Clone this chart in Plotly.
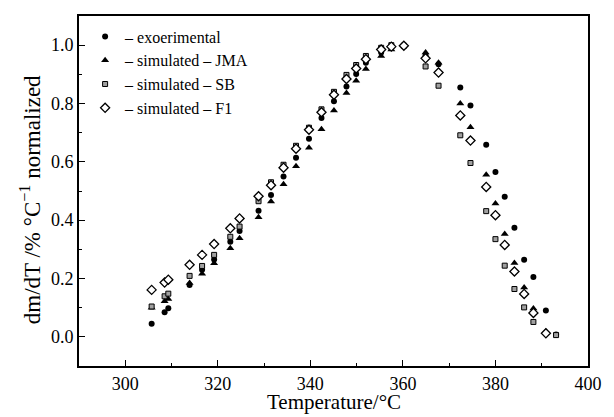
import plotly.graph_objects as go

# ---- data ----
exp_T = [305.7, 308.5, 309.3, 313.9, 316.6, 319.2, 322.7, 324.7, 328.8, 331.5, 334.2, 336.9,
         339.7, 342.4, 345.1, 347.8, 349.9, 352.0, 355.3, 357.5, 360.2, 364.9, 367.7, 372.4,
         374.6, 378.0, 380.0, 382.0, 384.1, 386.2, 388.2, 390.9, 393.1]
exp_v = [0.045, 0.084, 0.098, 0.178, 0.230, 0.265, 0.326, 0.363, 0.432, 0.486, 0.550, 0.614,
         0.679, 0.750, 0.808, 0.858, 0.901, 0.940, 0.975, 0.990, 1.000, 0.965, 0.935, 0.855,
         0.793, 0.659, 0.565, 0.480, 0.374, 0.264, 0.205, 0.090, 0.008]

jma_T = [305.7, 308.5, 309.3, 313.9, 316.6, 319.2, 322.7, 324.7, 328.8, 331.5, 334.2, 336.9,
         339.7, 342.4, 345.1, 347.8, 349.9, 352.0, 355.3, 357.5, 360.2, 364.9, 367.7, 372.4,
         374.6, 378.0, 380.0, 382.0, 384.1, 386.2, 388.2, 390.9]
jma_v = [0.100, 0.122, 0.130, 0.185, 0.216, 0.252, 0.304, 0.338, 0.410, 0.464, 0.523, 0.585,
         0.648, 0.712, 0.776, 0.836, 0.878, 0.918, 0.963, 0.985, 1.000, 0.975, 0.940, 0.800,
         0.719, 0.556, 0.457, 0.353, 0.253, 0.169, 0.097, 0.018]

sb_T = [305.7, 308.5, 309.3, 313.9, 316.6, 319.2, 322.7, 324.7, 328.8, 331.5, 334.2, 336.9,
        339.7, 342.4, 345.1, 347.8, 349.9, 352.0, 355.3, 357.5, 360.2, 364.9, 367.7, 372.4,
        374.6, 378.0, 380.0, 382.0, 384.1, 386.2, 388.2, 393.1]
sb_v = [0.104, 0.139, 0.148, 0.209, 0.243, 0.281, 0.343, 0.378, 0.465, 0.530, 0.590, 0.655,
        0.717, 0.780, 0.840, 0.898, 0.932, 0.963, 0.991, 1.000, 0.998, 0.927, 0.861, 0.691,
        0.596, 0.431, 0.335, 0.244, 0.164, 0.101, 0.051, 0.006]

f1_T = [305.7, 308.5, 309.3, 313.9, 316.6, 319.2, 322.7, 324.7, 328.8, 331.5, 334.2, 336.9,
        339.7, 342.4, 345.1, 347.8, 349.9, 352.0, 355.3, 357.5, 360.2, 364.9, 367.7, 372.4,
        374.6, 378.0, 380.0, 382.0, 384.1, 386.2, 388.2, 390.9]
f1_v = [0.161, 0.186, 0.196, 0.247, 0.281, 0.318, 0.372, 0.406, 0.482, 0.520, 0.580, 0.645,
        0.710, 0.770, 0.830, 0.884, 0.920, 0.952, 0.985, 0.995, 0.998, 0.955, 0.906, 0.759,
        0.673, 0.514, 0.417, 0.315, 0.224, 0.147, 0.082, 0.012]

names = ["– exoerimental", "– simulated – JMA", "– simulated – SB", "– simulated – F1"]
x_title = "Temperature/°C"
y_title = "dm/dT /% °C<sup>−1</sup> normalized"

FONT = "Liberation Serif"

fig = go.Figure()
fig.add_trace(go.Scatter(x=exp_T, y=exp_v, mode="markers", name=names[0],
                         marker=dict(symbol="circle", size=6, color="black")))
fig.add_trace(go.Scatter(x=jma_T, y=jma_v, mode="markers", name=names[1],
                         marker=dict(symbol="triangle-up", size=7, color="black")))
fig.add_trace(go.Scatter(x=sb_T, y=sb_v, mode="markers", name=names[2],
                         marker=dict(symbol="square", size=5, color="#a0a0a0",
                                     line=dict(color="black", width=1))))
fig.add_trace(go.Scatter(x=f1_T, y=f1_v, mode="markers", name=names[3],
                         marker=dict(symbol="diamond", size=7, color="white",
                                     line=dict(color="black", width=1.3))))

axis_common = dict(showline=True, linecolor="black", linewidth=2, mirror=True,
                   ticks="inside", ticklen=6, tickwidth=1, tickcolor="black",
                   showgrid=False, zeroline=False, automargin=False,
                   tickfont=dict(family=FONT, size=18, color="black"))

fig.update_xaxes(range=[290, 400], dtick=20, tick0=300,
                 minor=dict(ticks="inside", ticklen=3, dtick=10, tick0=300, tickcolor="black"),
                 **axis_common)
fig.update_yaxes(range=[-0.1, 1.1], dtick=0.2, tick0=0, tickformat=".1f",
                 minor=dict(ticks="inside", ticklen=3, dtick=0.1, tick0=0, tickcolor="black"),
                 **axis_common)

# axis titles as annotations for precise placement
fig.add_annotation(text=x_title, xref="paper", yref="paper",
                   x=0.5, y=-0.143, xanchor="center", yanchor="bottom", showarrow=False,
                   font=dict(family=FONT, size=21, color="black"))
fig.add_annotation(text=y_title, textangle=-90, xref="paper", yref="paper",
                   x=-0.096, y=0.474, xanchor="center", yanchor="middle", showarrow=False,
                   font=dict(family=FONT, size=23, color="black"))

# page body has an 8px margin, so the figure is shrunk/offset accordingly
fig.update_layout(
    width=606, height=409,
    margin=dict(l=71, r=26, t=8, b=51),
    plot_bgcolor="white", paper_bgcolor="white",
    font=dict(family=FONT, color="black"),
    legend=dict(x=0.012, y=0.99, xanchor="left", yanchor="top",
                bgcolor="rgba(0,0,0,0)", font=dict(family=FONT, size=16, color="black"),
                itemwidth=30, tracegroupgap=0),
)

fig.write_html("out.html")
